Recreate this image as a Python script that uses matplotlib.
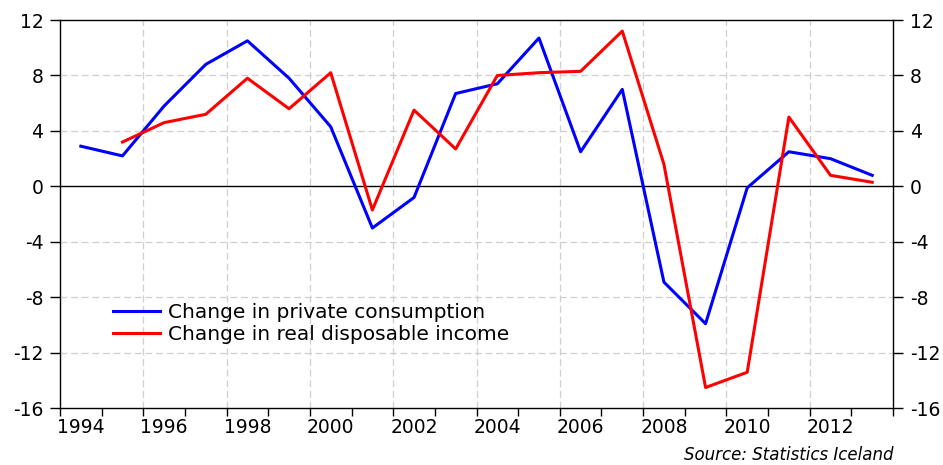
import matplotlib
matplotlib.use("Agg")
import matplotlib.pyplot as plt
import numpy as np

years_cons = list(range(1994, 2014))
consumption = [2.9, 2.2, 5.8, 8.8, 10.5, 7.8, 4.3, -3.0, -0.8, 6.7,
               7.4, 10.7, 2.5, 7.0, -6.9, -9.9, -0.1, 2.5, 2.0, 0.8]
years_inc = list(range(1995, 2014))
income = [3.2, 4.6, 5.2, 7.8, 5.6, 8.2, -1.7, 5.5, 2.7,
          8.0, 8.2, 8.3, 11.2, 1.6, -14.5, -13.4, 5.0, 0.8, 0.3]
label_years = list(range(1994, 2013, 2))
y_ticks = [-16, -12, -8, -4, 0, 4, 8, 12]

plt.rcParams['font.family'] = ['DejaVu Sans']
fig = plt.figure(figsize=(9.43, 4.65), dpi=100)
ax = fig.add_axes([60/943, 1 - 408.3/465, (893-60)/943, (408.3-20)/465])

# data at mid-year
xc = np.array(years_cons) + 0.5
xi = np.array(years_inc) + 0.5
ax.plot(xc, consumption, color='#0000ff', lw=2.2, label='Change in private consumption', zorder=3)
ax.plot(xi, income, color='#ff0000', lw=2.2, label='Change in real disposable income', zorder=3)

ax.set_xlim(1994, 2014)
ax.set_ylim(-16, 12)

# grid
for yv in y_ticks:
    if yv == 0:
        ax.axhline(0, color='black', lw=1.0, zorder=2)
    elif -16 < yv < 12:
        ax.axhline(yv, color='#cfcfcf', lw=0.9, ls=(0, (5.5, 3)), zorder=1)
for xv in label_years[1:]:
    ax.axvline(xv, color='#cfcfcf', lw=0.9, ls=(0, (5.5, 3)), zorder=1)

ax.set_yticks(y_ticks)
ax.set_yticklabels([str(v) for v in y_ticks])
ax.tick_params(axis='y', which='both', left=True, right=True, labelleft=True, labelright=True,
               direction='out', length=7, width=1.0, labelsize=13.5, pad=5)

ax.set_xticks(np.arange(1994, 2015, 1))
ax.set_xticklabels([])
ax.set_xticks(np.array(label_years) + 0.5, minor=True)
ax.set_xticklabels([str(y) for y in label_years], minor=True)
ax.tick_params(axis='x', which='major', direction='out', length=6, width=1.0)
ax.tick_params(axis='x', which='minor', length=0, labelsize=13.5, pad=7)

for s in ax.spines.values():
    s.set_linewidth(1.0)
    s.set_color('black')

leg = ax.legend(loc='upper left', bbox_to_anchor=((113-60)/833, (408.3-303)/388.3), frameon=False,
                fontsize=14.5, handlelength=2.35, handletextpad=0.4, labelspacing=0.16,
                borderaxespad=0, borderpad=0)

fig.text(894/943, 1 - 460/465, 'Source: Statistics Iceland', ha='right', va='baseline',
         fontsize=12, style='italic')

fig.savefig('out.png', dpi=100)
